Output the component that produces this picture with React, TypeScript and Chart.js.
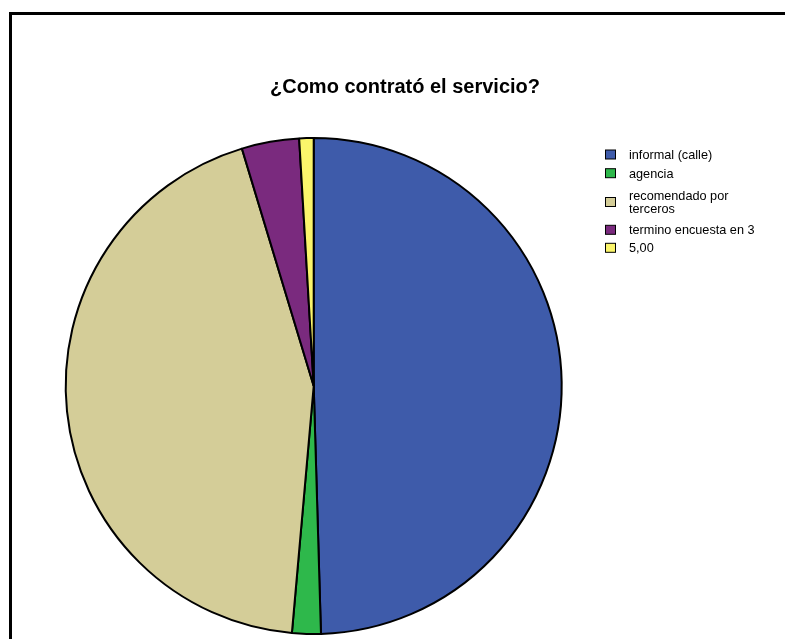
import React, { useEffect, useRef } from "react";
import { Chart, registerables } from "chart.js";

Chart.register(...registerables);

const titleText = "¿Como contrató el servicio?";
const categories: (string | string[])[] = [
  "informal (calle)",
  "agencia",
  ["recomendado por", "terceros"],
  "termino encuesta en 3",
  "5,00",
];
const counts = [53, 2, 47, 4, 1];
const sliceColors = ["#3E5BAA", "#2EB84B", "#D4CD98", "#7A2A7E", "#FBF56B"];

const FONT = "'Liberation Sans', Arial, sans-serif";
const legendRowCenters = [154.5, 173.2, 202, 229.8, 247.8];

const overlayPlugin = {
  id: "overlay",
  afterDraw(chart: any) {
    const ctx = chart.ctx as CanvasRenderingContext2D;
    ctx.save();
    // frame
    ctx.fillStyle = "#000";
    ctx.fillRect(9, 12, 776, 3);
    ctx.fillRect(9, 12, 3, 627);
    // title
    ctx.font = `bold 20px ${FONT}`;
    ctx.textAlign = "center";
    ctx.textBaseline = "alphabetic";
    ctx.fillStyle = "#000";
    ctx.fillText(titleText, 405, 93);
    // legend
    ctx.font = `12.7px ${FONT}`;
    ctx.textAlign = "left";
    const ds = chart.data.datasets[0];
    (chart.data.labels as any[]).forEach((lab, i) => {
      const lines: string[] = Array.isArray(lab) ? lab : [lab];
      const cy = legendRowCenters[i];
      ctx.fillStyle = ds.backgroundColor[i];
      ctx.fillRect(605.5, cy - 4.5, 10, 9);
      ctx.strokeStyle = "#000";
      ctx.lineWidth = 1;
      ctx.strokeRect(605.5, cy - 4.5, 10, 9);
      ctx.fillStyle = "#000";
      const lineGap = 13.5;
      const first = cy + 4.4 - ((lines.length - 1) * lineGap) / 2;
      lines.forEach((t, k) => {
        ctx.fillText(t, 629, first + k * lineGap);
      });
    });
    ctx.restore();
  },
};

export default function App() {
  const ref = useRef<HTMLCanvasElement | null>(null);
  useEffect(() => {
    if (!ref.current) return;
    const chart = new Chart(ref.current, {
      type: "pie",
      data: {
        labels: categories as any,
        datasets: [
          {
            data: counts,
            backgroundColor: sliceColors,
            borderColor: "#000",
            borderWidth: 2,
            radius: 248,
          } as any,
        ],
      },
      options: {
        responsive: false,
        animation: false,
        layout: { padding: { left: 66, right: 223.6, top: 137, bottom: 4 } },
        plugins: {
          legend: { display: false },
          tooltip: { enabled: false },
          title: { display: false },
        },
      },
      plugins: [overlayPlugin],
    });
    return () => chart.destroy();
  }, []);
  return (
    <div style={{ position: "absolute", left: 0, top: 0, width: 785, height: 639, background: "#fff" }}>
      <canvas ref={ref} width={785} height={639} style={{ display: "block" }} />
    </div>
  );
}
